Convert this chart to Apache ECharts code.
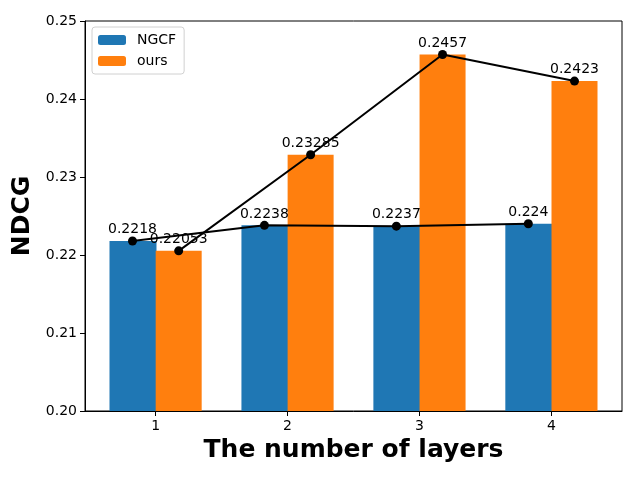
<!DOCTYPE html>
<html><head><meta charset="utf-8">
<script src="https://cdn.jsdelivr.net/npm/echarts@6/dist/echarts.min.js"></script>
<style>html,body{margin:0;padding:0;background:#fff}#c{width:640px;height:480px}</style>
</head><body><div id="c"></div>
<script>
const layers = [1, 2, 3, 4];
const ngcf = [0.2218, 0.2238, 0.2237, 0.224];
const ours = [0.22053, 0.23285, 0.2457, 0.2423];
const yTicks = [0.20, 0.21, 0.22, 0.23, 0.24, 0.25];

const half = 0.175; // half of bar width in data units
const ngcfPts = layers.map((l, i) => [l - half, ngcf[i]]);
const oursPts = layers.map((l, i) => [l + half, ours[i]]);
const font = 'DejaVu Sans';
const lbl = {show: true, position: 'top', distance: 0, color: '#000', fontFamily: font, fontSize: 14,
  formatter: p => String(p.value[1])};

const chart = echarts.init(document.getElementById('c'), null, {renderer: 'canvas'});
chart.setOption({
  animation: false,
  grid: {left: 85, right: 18, top: 21, bottom: 69, show: true, borderColor: '#000', borderWidth: 1},
  legend: {
    data: ['NGCF', 'ours'], orient: 'vertical', left: 92, top: 27,
    itemWidth: 28, itemHeight: 10, itemGap: 7,
    padding: [6, 8, 6, 6], borderColor: '#d0d0d0', borderWidth: 1, borderRadius: 3,
    backgroundColor: 'rgba(255,255,255,0.8)',
    textStyle: {fontFamily: font, fontSize: 14, color: '#000', padding: [0, 0, 0, 6]}
  },
  xAxis: {
    type: 'value', min: 0.465, max: 4.535,
    name: 'The number of layers', nameLocation: 'middle', nameGap: 26,
    nameTextStyle: {fontFamily: font, fontSize: 25, fontWeight: 'bold', color: '#000'},
    axisLine: {show: true, lineStyle: {color: '#000'}},
    axisTick: {show: true, customValues: layers, length: 5, lineStyle: {color: '#000'}},
    axisLabel: {customValues: layers, margin: 8, fontFamily: font, fontSize: 14, color: '#000'},
    splitLine: {show: false}
  },
  yAxis: {
    type: 'value', min: 0.2, max: 0.25,
    name: 'NDCG', nameLocation: 'middle', nameGap: 45,
    nameTextStyle: {fontFamily: font, fontSize: 25, fontWeight: 'bold', color: '#000'},
    axisLine: {show: true, lineStyle: {color: '#000'}},
    axisTick: {show: true, customValues: yTicks, length: 5, lineStyle: {color: '#000'}},
    axisLabel: {customValues: yTicks, margin: 8, fontFamily: font, fontSize: 14, color: '#000',
      formatter: v => v.toFixed(2)},
    splitLine: {show: false}
  },
  series: [
    {name: 'NGCF', type: 'bar', data: ngcfPts, barWidth: 47, barGap: '-100%',
      itemStyle: {color: '#1f77b4', borderWidth: 0}, z: 2},
    {name: 'ours', type: 'bar', data: oursPts, barWidth: 46, barGap: '-100%',
      itemStyle: {color: '#ff7f0e', borderWidth: 0}, z: 2},
    {name: 'NGCF line', type: 'line', data: ngcfPts, symbol: 'circle', symbolSize: 9,
      lineStyle: {color: '#000', width: 2}, itemStyle: {color: '#000'}, label: lbl, z: 5},
    {name: 'ours line', type: 'line', data: oursPts, symbol: 'circle', symbolSize: 9,
      lineStyle: {color: '#000', width: 2}, itemStyle: {color: '#000'}, label: lbl, z: 5}
  ]
});
</script></body></html>
